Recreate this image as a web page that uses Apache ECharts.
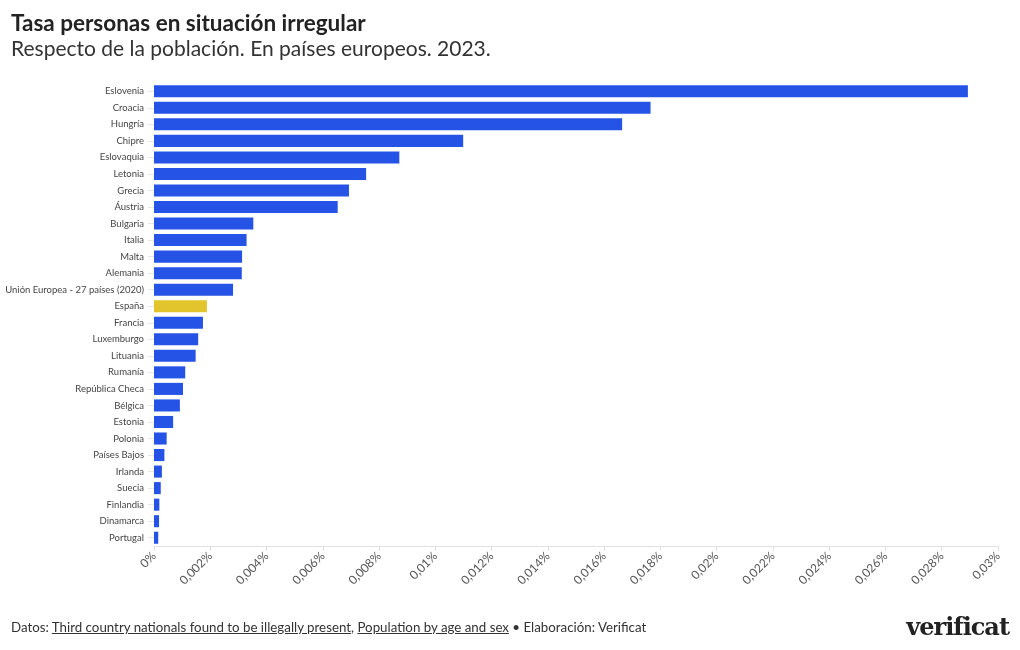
<!DOCTYPE html>
<html>
<head>
<meta charset="utf-8">
<script src="https://cdn.jsdelivr.net/npm/echarts@6/dist/echarts.min.js"></script>
<style>
  html, body { margin: 0; padding: 0; background: #fff; }
  #chart { width: 1020px; height: 650px; position: absolute; left: 0; top: 0; }
  #footer { position: absolute; left: 11px; top: 619px; font-family: Lato, "Noto Sans", sans-serif; font-size: 13.3px; color: #333; }
  #footer span.u { text-decoration: underline; }
  #logo { position: absolute; right: 11px; top: 612px; font-family: "DejaVu Serif", "Liberation Serif", serif; font-weight: bold; font-size: 24px; color: #222; letter-spacing: -1px; }
</style>
</head>
<body>
<div id="chart"></div>
<div id="footer">Datos: <span class="u">Third country nationals found to be illegally present</span>, <span class="u">Population by age and sex</span> • Elaboración: Verificat</div>
<div id="logo">verificat</div>
<script>
const categories = ["Eslovenia","Croacia","Hungría","Chipre","Eslovaquia","Letonia","Grecia","Áustria","Bulgaria","Italia","Malta","Alemania","Unión Europea - 27 países (2020)","España","Francia","Luxemburgo","Lituania","Rumanía","República Checa","Bélgica","Estonia","Polonia","Países Bajos","Irlanda","Suecia","Finlandia","Dinamarca","Portugal"];
const values = [0.02893,0.01765,0.01664,0.01099,0.00872,0.00754,0.00693,0.00653,0.00353,0.00329,0.00313,0.00312,0.00281,0.00188,0.00174,0.00157,0.00148,0.00111,0.00103,0.00092,0.00068,0.00045,0.00037,0.00028,0.00024,0.00019,0.00018,0.00015];
const highlight = "España";
const titleText = "Tasa personas en situación irregular";
const subtitleText = "Respecto de la población. En países europeos. 2023.";

const chart = echarts.init(document.getElementById('chart'), null, {renderer: 'canvas'});
const fmt = v => (v === 0 ? '0' : String(+v.toFixed(4)).replace('.', ',')) + '%';
chart.setOption({
  animation: false,
  title: [{
    text: titleText, left: 6, top: 7,
    textStyle: {fontFamily: 'Lato', fontWeight: 'bold', fontSize: 22.5, color: '#222'}
  }, {
    text: subtitleText, left: 6, top: 34,
    textStyle: {fontFamily: 'Lato', fontWeight: 'normal', fontSize: 21, color: '#333'}
  }],
  grid: {left: 154, right: 22, top: 83, bottom: 104, containLabel: false, outerBoundsMode: 'none'},
  xAxis: {
    type: 'value', min: 0, max: 0.03, interval: 0.002,
    axisLine: {show: true, lineStyle: {color: '#e0e0e0'}},
    axisTick: {show: true, length: 5, lineStyle: {color: '#e0e0e0'}},
    splitLine: {show: false},
    axisLabel: {rotate: 45, formatter: fmt, fontFamily: 'Lato', fontSize: 12, color: '#555', margin: 8}
  },
  yAxis: {
    type: 'category', data: categories, inverse: true,
    axisLine: {show: false},
    axisTick: {show: true, alignWithLabel: true, length: 6, lineStyle: {color: '#e6e6e6'}},
    axisLabel: {fontFamily: 'Lato', fontSize: 9.5, color: '#444', margin: 10}
  },
  series: [{
    type: 'bar',
    data: values.map((v, i) => ({value: v, itemStyle: {color: categories[i] === highlight ? '#E2C52C' : '#2453E6'}})),
    barCategoryGap: '27%'
  }]
});
</script>
</body>
</html>
